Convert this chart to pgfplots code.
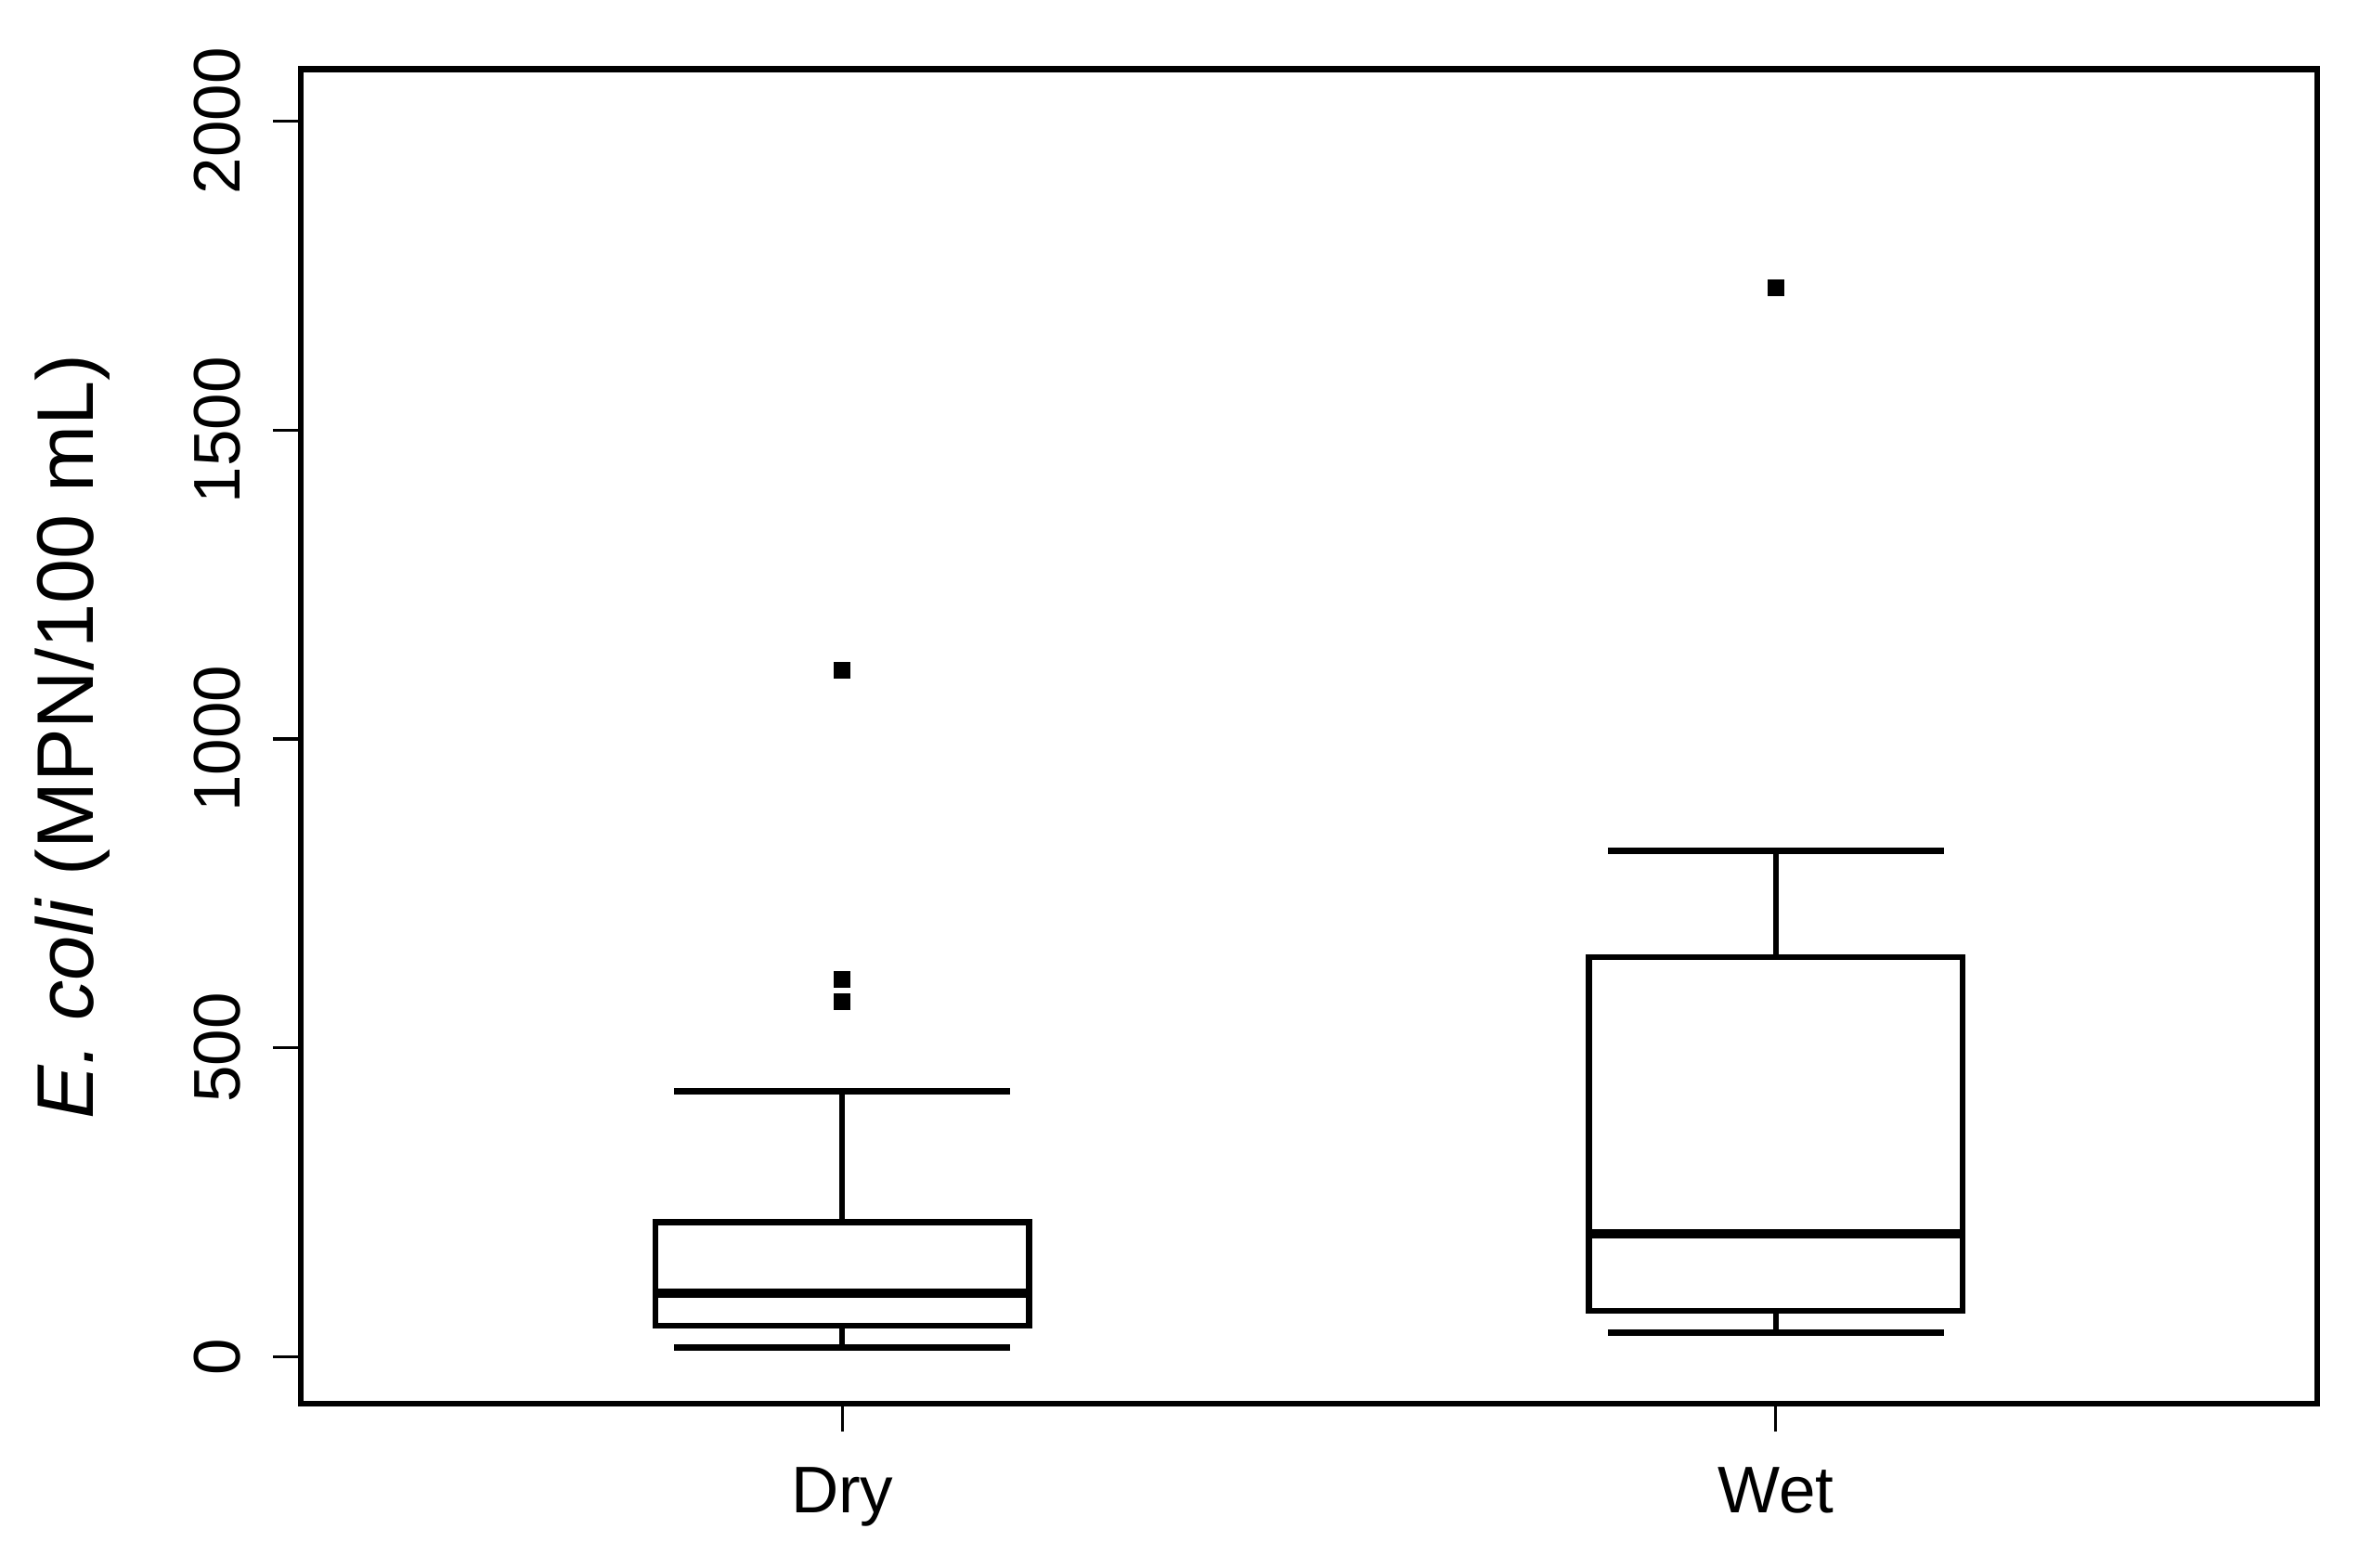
\documentclass[border=0pt]{standalone}
\usepackage{pgfplots}
\pgfplotsset{compat=1.18}
\usepgfplotslibrary{statistics}
\usepackage{fontspec}
\setmainfont{Liberation Sans}
\begin{document}
\begin{tikzpicture}
\begin{axis}[
  scale only axis,
  width=434.4pt, height=287.5pt,
  xmin=0.42, xmax=2.58,
  ymin=-76, ymax=2084,
  xtick={1,2}, xticklabels={Dry,Wet},
  ytick={0,500,1000,1500,2000},
  xtick pos=bottom, ytick pos=left,
  tick align=outside,
  major tick length=6pt,
  every tick/.style={black, line width=0.65pt},
  axis line style={black, line width=1.3pt},
  /pgf/number format/assume math mode=true,
  /pgf/number format/1000 sep={},
  scaled y ticks=false,
  yticklabel shift=3.5pt,
  yticklabel style={rotate=90, anchor=south, font=\fontsize{14.2}{17}\selectfont},
  xticklabel style={anchor=north, yshift=-4.2pt, font=\fontsize{14.2}{17}\selectfont},
  ylabel={\textit{E. coli} (MPN/100 mL)},
  ylabel style={at={(axis description cs:-0.1133,0.5)}, anchor=center, font=\fontsize{17.3}{20}\selectfont},
  boxplot/draw direction=y,
  boxplot/every median/.style={line width=2pt},
  clip=false,
]
\addplot+[solid, black, line width=1.3pt, mark=square*, mark size=1.55pt,
  mark options={solid, fill=black, line width=0.5pt},
  boxplot prepared={median=103, upper quartile=218, lower quartile=50,
    upper whisker=430, lower whisker=15, draw position=1,
    box extend=0.4, whisker extend=0.36}]
  table[row sep=\\, y index=0] {v\\ 1111\\ 610\\ 574\\};
\addplot+[solid, black, line width=1.3pt, mark=square*, mark size=1.55pt,
  mark options={solid, fill=black, line width=0.5pt},
  boxplot prepared={median=199, upper quartile=647, lower quartile=74,
    upper whisker=819, lower whisker=39, draw position=2,
    box extend=0.4, whisker extend=0.36}]
  table[row sep=\\, y index=0] {v\\ 1730\\};
\coordinate (ll) at (rel axis cs:0,0);
\coordinate (ur) at (rel axis cs:1,1);
\end{axis}
\path ([xshift=-64.8pt,yshift=-35.2pt]ll) rectangle ([xshift=9pt,yshift=14.9pt]ur);
\end{tikzpicture}
\end{document}
